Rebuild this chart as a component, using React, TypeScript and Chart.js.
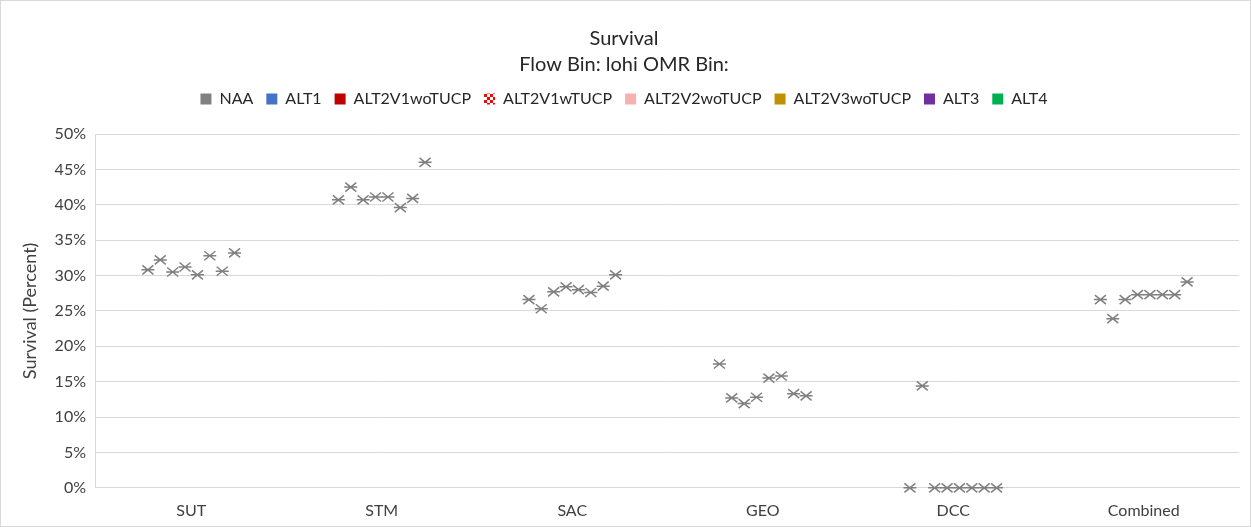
import React, { useEffect, useRef } from 'react';
import { Chart, registerables } from 'chart.js';
Chart.register(...registerables);

const categories = ['SUT', 'STM', 'SAC', 'GEO', 'DCC', 'Combined'];
const seriesNames = ['NAA', 'ALT1', 'ALT2V1woTUCP', 'ALT2V1wTUCP', 'ALT2V2woTUCP', 'ALT2V3woTUCP', 'ALT3', 'ALT4'];
const NAA = [30.8, 40.7, 26.6, 17.5, 0, 26.6];
const ALT1 = [32.2, 42.5, 25.3, 12.7, 14.4, 23.9];
const ALT2V1woTUCP = [30.5, 40.7, 27.7, 11.9, 0, 26.6];
const ALT2V1wTUCP = [31.2, 41.1, 28.4, 12.8, 0, 27.3];
const ALT2V2woTUCP = [30.1, 41.1, 28.0, 15.5, 0, 27.3];
const ALT2V3woTUCP = [32.8, 39.6, 27.6, 15.8, 0, 27.3];
const ALT3 = [30.6, 40.9, 28.5, 13.3, 0, 27.3];
const ALT4 = [33.2, 46.0, 30.1, 13.0, 0, 29.1];
const seriesValues = [NAA, ALT1, ALT2V1woTUCP, ALT2V1wTUCP, ALT2V2woTUCP, ALT2V3woTUCP, ALT3, ALT4];
const titleLines = ['Survival', 'Flow Bin: lohi OMR Bin:'];
const yTitle = 'Survival (Percent)';

function checker(): CanvasPattern | string {
  const c = document.createElement('canvas');
  c.width = 6; c.height = 6;
  const g = c.getContext('2d');
  if (!g) return '#FF0000';
  g.fillStyle = '#FFFFFF';
  g.fillRect(0, 0, 6, 6);
  g.fillStyle = '#FF0000';
  g.fillRect(0, 0, 3, 3);
  g.fillRect(3, 3, 3, 3);
  const p = g.createPattern(c, 'repeat');
  return p || '#FF0000';
}

const legendSpacer = {
  id: 'legendSpacer',
  beforeInit(chart: any) {
    const legend = chart.legend;
    if (!legend) return;
    const orig = legend.fit;
    legend.fit = function () {
      orig.call(this);
      this.height += 17;
    };
  },
};

const markerPlugin = {
  id: 'asteriskMarkers',
  afterDatasetsDraw(chart: any) {
    const ctx = chart.ctx;
    ctx.save();
    ctx.strokeStyle = '#808080';
    ctx.lineWidth = 1.5;
    chart.data.datasets.forEach((_: any, i: number) => {
      const meta = chart.getDatasetMeta(i);
      meta.data.forEach((el: any) => {
        const x = el.x;
        const y = el.y;
        ctx.beginPath();
        ctx.moveTo(x - 5.5, y - 4.5);
        ctx.lineTo(x + 5.5, y + 4.5);
        ctx.moveTo(x - 5.5, y + 4.5);
        ctx.lineTo(x + 5.5, y - 4.5);
        ctx.moveTo(x - 6.5, y);
        ctx.lineTo(x + 6.5, y);
        ctx.stroke();
      });
    });
    ctx.restore();
  },
};

export default function App() {
  const ref = useRef<HTMLCanvasElement>(null);
  useEffect(() => {
    document.body.style.margin = '0';
    document.body.style.overflow = 'hidden';
    const colors: any[] = ['#808080', '#4472C4', '#C00000', checker(), '#F4B1AE', '#BF9000', '#7030A0', '#00B050'];
    const font = 'Lato, "Open Sans", sans-serif';
    const chart = new Chart(ref.current as HTMLCanvasElement, {
      type: 'bar',
      data: {
        labels: categories,
        datasets: seriesNames.map((name, i) => ({
          label: name,
          data: seriesValues[i].map((v) => [v, v]) as any,
          backgroundColor: colors[i],
          borderWidth: 0,
          categoryPercentage: 0.52,
          barPercentage: 1,
        })),
      },
      options: {
        animation: false,
        responsive: true,
        maintainAspectRatio: false,
        layout: { padding: { left: 8, right: 11, top: 0, bottom: -7 } },
        scales: {
          x: {
            grid: { display: false, drawTicks: false },
            border: { display: true, color: '#D9D9D9' },
            ticks: { color: '#404040', font: { family: font, size: 16 }, padding: 13 },
          },
          y: {
            min: 0,
            max: 50,
            ticks: {
              stepSize: 5,
              color: '#404040',
              font: { family: font, size: 16 },
              padding: 10,
              callback: (v: any) => v + '%',
            },
            grid: { color: '#D9D9D9', drawTicks: false },
            border: { display: true, color: '#D9D9D9' },
            title: { display: true, text: yTitle, color: '#404040', font: { family: font, size: 18 }, padding: { top: 10, bottom: 4 } },
          },
        },
        plugins: {
          title: {
            display: true,
            text: titleLines,
            color: '#262626',
            font: { family: font, size: 20, weight: 'normal', lineHeight: 1.3 },
            padding: { top: 25, bottom: 0 },
          },
          legend: {
            display: true,
            labels: {
              boxWidth: 11,
              boxHeight: 11,
              padding: 13,
              color: '#262626',
              font: { family: font, size: 16 },
            },
          },
          tooltip: { enabled: false },
        },
      },
      plugins: [legendSpacer, markerPlugin],
    });
    return () => chart.destroy();
  }, []);
  return (
    <div style={{ width: 1251, height: 527, position: 'relative', boxSizing: 'border-box', border: '1px solid #D9D9D9', background: '#FFFFFF' }}>
      <canvas ref={ref} />
    </div>
  );
}
